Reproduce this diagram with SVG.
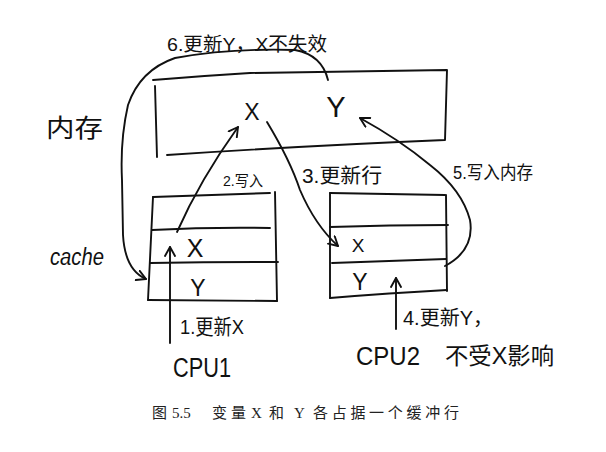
<svg xmlns="http://www.w3.org/2000/svg" width="606" height="452" viewBox="0 0 606 452">
<style>
.ln{fill:none;stroke:#111;stroke-width:1.9;stroke-linecap:round;stroke-linejoin:round}
.hw{font-family:"Liberation Sans","Noto Sans CJK SC",sans-serif;fill:#111}
.cap{font-family:"Liberation Serif","Noto Sans CJK SC",serif;fill:#222;font-size:15px}
</style>
<defs>
<marker id="ah" viewBox="0 0 12 12" refX="10" refY="6" markerWidth="12" markerHeight="12" markerUnits="userSpaceOnUse" orient="auto">
<path d="M1,1 L10,6 L1,11" fill="none" stroke="#111" stroke-width="1.9" stroke-linecap="round" stroke-linejoin="round"/>
</marker>
</defs>
<rect width="606" height="452" fill="#fff"/>

<g id="memory">
<path class="ln" d="M153,80 Q200,76 250,73 L447,70 L445,140 Q300,146 167,155"/>
<path class="ln" d="M155,86 L157,157"/>
<text class="hw" x="252" y="120" font-size="23" text-anchor="middle">X</text>
<text class="hw" x="336" y="117" font-size="29" text-anchor="middle">Y</text>
<text class="hw" x="46" y="137" font-size="25" textLength="57" lengthAdjust="spacingAndGlyphs">内存</text>
</g>

<g id="cache1">
<path class="ln" d="M153,197 Q210,195 270,193"/>
<path class="ln" d="M153,197 L148,300"/>
<path class="ln" d="M275,192 L277,301"/>
<path class="ln" d="M152,230 Q210,227 270,228"/>
<path class="ln" d="M150,263 Q215,262 278,262"/>
<path class="ln" d="M148,300 L277,301"/>
<text class="hw" x="195" y="257" font-size="25" text-anchor="middle">X</text>
<text class="hw" x="198" y="296" font-size="23" text-anchor="middle">Y</text>
<text class="hw" x="50" y="265" font-size="23" font-style="italic" textLength="54" lengthAdjust="spacingAndGlyphs">cache</text>
</g>

<g id="cache2">
<path class="ln" d="M330,193 L445,195"/>
<path class="ln" d="M330,193 L330,298"/>
<path class="ln" d="M446,195 L447,291"/>
<path class="ln" d="M330,227 Q390,225 448,225"/>
<path class="ln" d="M332,263 Q390,261 446,259"/>
<path class="ln" d="M330,298 Q390,293 447,290"/>
<text class="hw" x="358" y="252" font-size="19" text-anchor="middle">X</text>
<text class="hw" x="360" y="290" font-size="23" text-anchor="middle">Y</text>
</g>

<g id="cpu1">
<text class="hw" x="173" y="377" font-size="27" textLength="58" lengthAdjust="spacingAndGlyphs">CPU1</text>
</g>

<g id="cpu2">
<text class="hw" x="356" y="365" font-size="25" textLength="64" lengthAdjust="spacingAndGlyphs">CPU2</text>
<text class="hw" x="445" y="364" font-size="23" textLength="109" lengthAdjust="spacingAndGlyphs">不受X影响</text>
</g>

<g id="connectors">
<path class="ln" d="M170,343 L170,247" marker-end="url(#ah)"/>
<path class="ln" d="M396,329 L396,278" marker-end="url(#ah)"/>
<path class="ln" d="M177,232 Q200,180 238,127" marker-end="url(#ah)"/>
<path class="ln" d="M267,122 Q290,160 300,190 Q315,225 338,246" marker-end="url(#ah)"/>
<path class="ln" d="M445,266 Q475,250 470,220 Q462,190 430,165 Q400,140 360,118" marker-end="url(#ah)"/>
<path class="ln" d="M328,80 Q322,55 295,50 Q230,48 175,58 Q140,70 128,105 Q120,140 122,180 L123,235 Q125,270 146,279" marker-end="url(#ah)"/>
</g>

<g id="labels">
<text class="hw" x="167" y="51" font-size="19" textLength="160" lengthAdjust="spacingAndGlyphs">6.更新Y，X不失效</text>
<text class="hw" x="223" y="186" font-size="15" textLength="40" lengthAdjust="spacingAndGlyphs">2.写入</text>
<text class="hw" x="302" y="183" font-size="20" textLength="80" lengthAdjust="spacingAndGlyphs">3.更新行</text>
<text class="hw" x="453" y="179" font-size="18" textLength="80" lengthAdjust="spacingAndGlyphs">5.写入内存</text>
<text class="hw" x="180" y="334" font-size="21" textLength="64" lengthAdjust="spacingAndGlyphs">1.更新X</text>
<text class="hw" x="403" y="325" font-size="20" textLength="90" lengthAdjust="spacingAndGlyphs">4.更新Y，</text>
</g>

<g id="caption">
<text class="cap" y="418"><tspan x="152">图</tspan><tspan x="172">5.5</tspan><tspan x="212" letter-spacing="4">变量</tspan><tspan x="251">X</tspan><tspan x="269">和</tspan><tspan x="294">Y</tspan><tspan x="313" letter-spacing="3.7">各占据一个缓冲行</tspan></text>
</g>
</svg>
